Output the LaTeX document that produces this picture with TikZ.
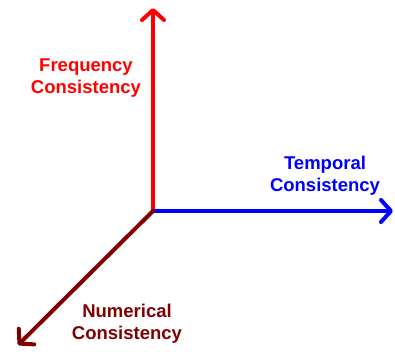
\documentclass[tikz,border=0pt]{standalone}
\usepackage{fontspec}
\setmainfont{Liberation Sans}
\usetikzlibrary{arrows.meta}
\definecolor{darkred}{RGB}{128,0,0}
\begin{document}
\begin{tikzpicture}[x=1pt,y=-1pt,
  axis/.style={line width=4pt,line cap=round,line join=round,
    -{Straight Barb[length=10pt,width=22pt,line width=4pt,round]}},
  lbl/.style={font=\fontsize{18.5}{22}\selectfont\bfseries,align=center,inner sep=0pt}]
\useasboundingbox (0,0) rectangle (395,351);
\coordinate (o) at (153,211);
\coordinate (up) at (153,8);
\coordinate (rt) at (393,211);
\coordinate (dl) at (18,345);
\draw[axis,red] (o) -- (up);
\draw[axis,blue] (o) -- (rt);
\draw[axis,darkred] (o) -- (dl);
\node[lbl,red] (f) at (86,78) {Frequency\\Consistency};
\node[lbl,blue] (t) at (325,176) {Temporal\\Consistency};
\node[lbl,darkred] (n) at (127,324) {Numerical\\Consistency};
\end{tikzpicture}
\end{document}
